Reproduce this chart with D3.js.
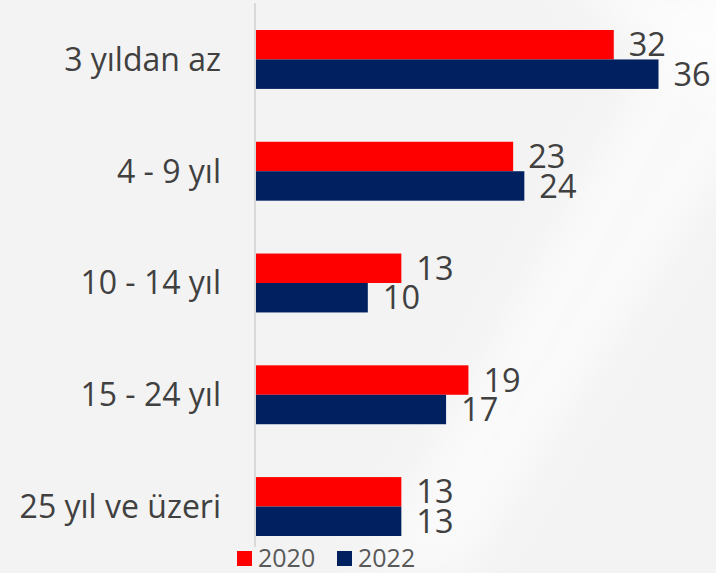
<!DOCTYPE html>
<html>
<head>
<meta charset="utf-8">
<script src="https://cdn.jsdelivr.net/npm/d3@7"></script>
<style>
  html, body { margin: 0; padding: 0; background: #f3f3f3; }
  svg { display: block; font-family: "Open Sans", sans-serif; }
</style>
</head>
<body>
<svg id="chart"></svg>
<script>
const categories = ["3 yıldan az", "4 - 9 yıl", "10 - 14 yıl", "15 - 24 yıl", "25 yıl ve üzeri"];
const seriesNames = ["2020", "2022"];
const values2020 = [32, 23, 13, 19, 13];
const values2022 = [36, 24, 10, 17, 13];
const colors = ["#ff0000", "#002060"];

const width = 716, height = 573;

const data = categories.map((c, i) => ({
  category: c,
  values: [
    { series: seriesNames[0], value: values2020[i] },
    { series: seriesNames[1], value: values2022[i] }
  ]
}));

const svg = d3.select("#chart").attr("width", width).attr("height", height);

// background with a soft white sweep
const defs = svg.append("defs");
defs.append("filter").attr("id", "blur")
  .append("feGaussianBlur").attr("stdDeviation", 18);

svg.append("rect").attr("width", width).attr("height", height).attr("fill", "#f3f3f3");
svg.append("path")
  .attr("d", "M 360 573 Q 520 300 690 -20 L 760 -20 L 760 120 Q 600 360 470 573 Z")
  .attr("fill", "#ffffff")
  .attr("opacity", 0.55)
  .attr("filter", "url(#blur)");
svg.append("path")
  .attr("d", "M 560 -20 Q 650 60 760 110 L 760 -20 Z")
  .attr("fill", "#ffffff")
  .attr("opacity", 0.6)
  .attr("filter", "url(#blur)");

const x = d3.scaleLinear().domain([0, 36]).range([256, 658.5]);
const y = d3.scaleBand().domain(categories).range([30, 536]).paddingInner(0.473).paddingOuter(0);
const ySub = d3.scaleBand().domain(seriesNames).range([0, y.bandwidth()]);
const color = d3.scaleOrdinal().domain(seriesNames).range(colors);

// category labels
svg.append("g")
    .attr("class", "axis")
    .attr("transform", "translate(255,0)")
    .call(d3.axisLeft(y).tickSize(0).tickPadding(34))
    .call(g => g.select(".domain").remove())
    .call(g => g.selectAll("text")
      .attr("font-family", "'Open Sans', sans-serif")
      .attr("font-size", 32)
      .attr("fill", "#404040")
      .attr("dy", "0.357em"));

// vertical axis line
svg.append("line")
  .attr("x1", 255).attr("x2", 255)
  .attr("y1", 3).attr("y2", 547)
  .attr("stroke", "#d9d9d9")
  .attr("stroke-width", 2);

const groups = svg.selectAll(".grp").data(data).join("g")
  .attr("class", "grp")
  .attr("transform", d => `translate(0,${y(d.category)})`);

groups.selectAll("rect").data(d => d.values).join("rect")
  .attr("x", x(0))
  .attr("y", d => ySub(d.series))
  .attr("width", d => x(d.value) - x(0))
  .attr("height", ySub.bandwidth())
  .attr("fill", d => color(d.series));

groups.selectAll("text").data(d => d.values).join("text")
  .attr("x", d => x(d.value) + 15)
  .attr("y", d => ySub(d.series) + ySub.bandwidth() / 2)
  .attr("dy", "0.357em")
  .attr("font-size", 32.5)
  .attr("fill", "#404040")
  .text(d => d.value);

// legend
const legend = svg.append("g").attr("transform", "translate(237,551)");
const items = legend.selectAll("g").data(seriesNames).join("g")
  .attr("transform", (d, i) => `translate(${i * 100},0)`);
items.append("rect")
  .attr("width", 15).attr("height", 15)
  .attr("fill", d => color(d));
items.append("text")
  .attr("x", 21).attr("y", 15.5)
  .attr("font-size", 25)
  .attr("fill", "#595959")
  .text(d => d);
</script>
</body>
</html>
